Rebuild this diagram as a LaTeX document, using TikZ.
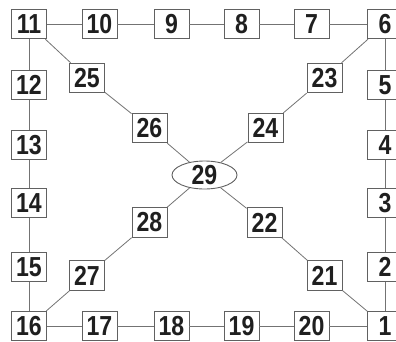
\documentclass[tikz,border=0pt]{standalone}
\usepackage{fontspec}
\setmainfont{Liberation Sans}[FakeStretch=0.84]
\usetikzlibrary{shapes.geometric}
\begin{document}
\begin{tikzpicture}[x=1pt,y=-1pt,
  numbox/.style={draw=black!62,line width=0.9pt,fill=white,minimum width=35pt,minimum height=29.5pt,inner sep=0pt,
    font=\fontsize{27.5}{27.5}\selectfont\bfseries,text=black!88},
  hub/.style={numbox,ellipse,minimum width=65pt,minimum height=28pt},
  link/.style={draw=black!55,line width=0.8pt}]
\useasboundingbox (0,0) rectangle (396,341);
\clip (0,0) rectangle (396,341);
% outer ring
\node[numbox] (n11) at (29,24) {11};
\node[numbox] (n10) at (99.5,24) {10};
\node[numbox] (n9) at (171.5,24) {9};
\node[numbox] (n8) at (241.5,24) {8};
\node[numbox] (n7) at (311.5,24) {7};
\node[numbox] (n6) at (385,24) {6};
\node[numbox] (n5) at (385,85) {5};
\node[numbox] (n4) at (385,145) {4};
\node[numbox] (n3) at (385,203) {3};
\node[numbox] (n2) at (385,267) {2};
\node[numbox] (n1) at (385,326) {1};
\node[numbox] (n20) at (311.5,326) {20};
\node[numbox] (n19) at (241.5,326) {19};
\node[numbox] (n18) at (171.5,326) {18};
\node[numbox] (n17) at (99.5,326) {17};
\node[numbox] (n16) at (29,326) {16};
\node[numbox] (n15) at (29,267) {15};
\node[numbox] (n14) at (29,203) {14};
\node[numbox] (n13) at (29,145) {13};
\node[numbox] (n12) at (29,85) {12};
% inner
\node[numbox] (n25) at (87,78) {25};
\node[numbox] (n26) at (149.5,128) {26};
\node[numbox] (n24) at (265.5,128) {24};
\node[numbox] (n23) at (324.5,78) {23};
\node[hub] (n29) at (204.5,175) {29};
\node[numbox] (n28) at (149.5,222.5) {28};
\node[numbox] (n22) at (264.5,222.5) {22};
\node[numbox] (n27) at (87,275.5) {27};
\node[numbox] (n21) at (324.5,275.5) {21};
% connectors
\foreach \a/\b in {n11/n10,n10/n9,n9/n8,n8/n7,n7/n6,n6/n5,n5/n4,n4/n3,n3/n2,n2/n1,n1/n20,n20/n19,n19/n18,n18/n17,n17/n16,n16/n15,n15/n14,n14/n13,n13/n12,n12/n11,
  n11/n25,n25/n26,n26/n29,n29/n24,n24/n23,n23/n6,n29/n28,n28/n27,n27/n16,n29/n22,n22/n21,n21/n1}
  \draw[link] (\a) -- (\b);
\end{tikzpicture}
\end{document}
